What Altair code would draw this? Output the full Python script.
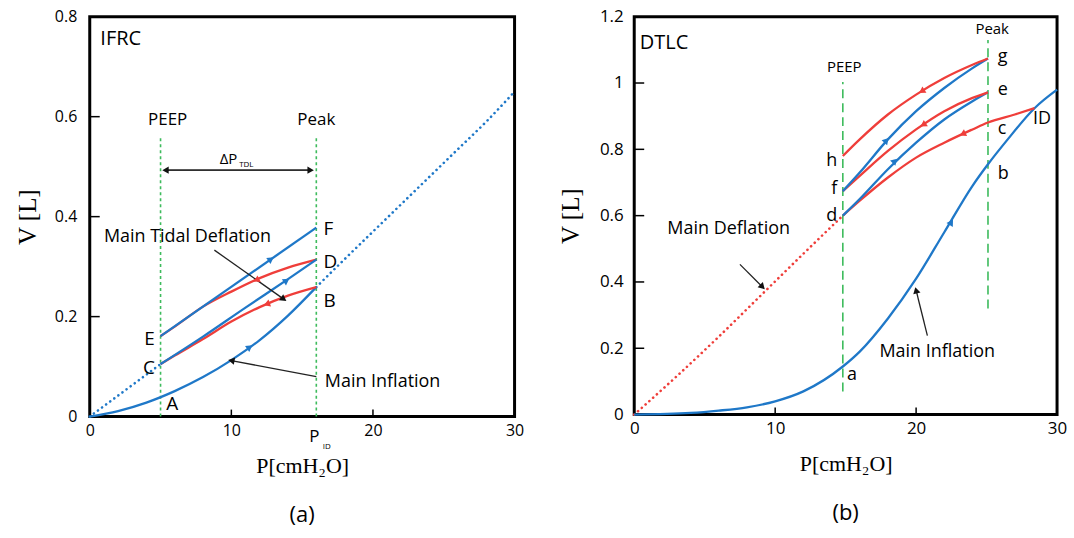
import altair as alt
import pandas as pd

BLUE = "#1f78c8"
RED = "#ef3e3a"
GREEN = "#3dbb5c"
SANS = "Open Sans"
SERIF = "Liberation Serif"

# ---------------- Panel (a) IFRC data ----------------
a_infl_P = [0, 2, 4, 6, 8, 10, 12, 14, 16]
a_infl_V = [0, 0.011, 0.028, 0.051, 0.079, 0.113, 0.153, 0.202, 0.259]
a_infl_ext_P = [16, 18, 20, 22, 24, 26, 28, 30]
a_infl_ext_V = [0.259, 0.315, 0.37, 0.425, 0.48, 0.535, 0.59, 0.65]
a_defl_dot_P = [0, 5]
a_defl_dot_V = [0, 0.105]
a_CD_P = [5, 8, 11, 14, 16]
a_CD_V = [0.105, 0.16, 0.218, 0.275, 0.314]
a_EF_P = [5, 16]
a_EF_V = [0.161, 0.378]
a_DE_P = [16, 14, 12, 10, 8, 6, 5]
a_DE_V = [0.314, 0.298, 0.277, 0.25, 0.22, 0.18, 0.161]
a_BC_P = [16, 14, 12, 10, 8, 6, 5]
a_BC_V = [0.259, 0.242, 0.219, 0.19, 0.155, 0.122, 0.105]

a_peep, a_peak = 5, 16
a_vline_top = 0.559

a_yvals = [0, 0.2, 0.4, 0.6, 0.8]
a_ytick_in = [0.2, 0.4, 0.6]
a_xvals = [0, 10, 20, 30]
a_xtick_in = [10, 20]

# curve arrowheads: P, V, direction angle (deg, clockwise from right)
a_arr_col = ["blue", "blue", "blue", "red", "red"]
a_arr_P = [11.3, 12.8, 13.9, 11.76, 12.5]
a_arr_V = [0.139, 0.315, 0.272, 0.273, 0.225]
a_arr_ang = [325, 325, 326, 154, 160]

# annotation arrows (from -> to)
a_ann_P1 = [8.8, 16.0]
a_ann_V1 = [0.333, 0.08]
a_ann_P2 = [13.7, 10.0]
a_ann_V2 = [0.235, 0.112]
a_ann_ang = [35, 190.6]

a_dp_P1, a_dp_P2, a_dp_V = 5.35, 15.6, 0.493

# ---------------- Panel (b) DTLC data ----------------
b_infl_P = [0, 4, 6, 8, 10, 12, 14.8, 16, 18, 20, 22, 24, 25.1, 26.5, 28.4, 30]
b_infl_V = [0, 0.005, 0.012, 0.022, 0.04, 0.07, 0.145, 0.19, 0.29, 0.41, 0.55, 0.69, 0.755, 0.83, 0.924, 0.98]
b_defl_P = [0, 3, 6, 9, 12, 14.8]
b_defl_V = [0, 0.115, 0.235, 0.36, 0.485, 0.6]
b_gh_P = [14.8, 16, 18, 20, 22, 24, 25.1]
b_gh_V = [0.78, 0.83, 0.905, 0.965, 1.015, 1.055, 1.074]
b_fg_P = [14.8, 16, 18, 20, 22, 24, 25.1]
b_fg_V = [0.674, 0.73, 0.83, 0.915, 0.985, 1.045, 1.074]
b_ef_P = [14.8, 16, 18, 20, 22, 24, 25.1]
b_ef_V = [0.674, 0.72, 0.795, 0.86, 0.915, 0.955, 0.972]
b_de_P = [14.8, 16, 18, 20, 22, 24, 25.1]
b_de_V = [0.6, 0.65, 0.74, 0.82, 0.89, 0.945, 0.972]
b_idd_P = [14.8, 16, 18, 20, 22, 24, 25.1, 27, 28.4]
b_idd_V = [0.6, 0.645, 0.715, 0.775, 0.82, 0.86, 0.881, 0.905, 0.924]

b_peep, b_peak = 14.8, 25.1
b_peep_V = [0.07, 1.003]
b_peak_V = [0.32, 1.13]

b_yvals = [0, 0.2, 0.4, 0.6, 0.8, 1, 1.2]
b_ytick_in = [0.2, 0.4, 0.6, 0.8, 1.0]
b_xvals = [0, 10, 20, 30]
b_xtick_in = [10, 20]

b_arr_col = ["blue", "blue", "blue", "red", "red", "red"]
b_arr_P = [22.5, 17.9, 18.5, 20.4, 20.5, 23.3]
b_arr_V = [0.58, 0.827, 0.765, 0.975, 0.874, 0.846]
b_arr_ang = [302, 312, 315, 147, 147, 155]

b_ann_P1 = [7.5, 20.8]
b_ann_V1 = [0.453, 0.238]
b_ann_P2 = [9.1, 20.0]
b_ann_V2 = [0.385, 0.375]
b_ann_ang = [45, 256]

W_A, H_A = 426, 401
W_B, H_B = 424, 399

COLSCALE = alt.Scale(domain=["blue", "red"], range=[BLUE, RED])


def curves_df(curves):
    rows = []
    for cid, (P, V, col) in enumerate(curves):
        for i, (p, v) in enumerate(zip(P, V)):
            rows.append({"P": p, "V": v, "curve": cid, "ord": i, "col": col})
    return pd.DataFrame(rows)


def panel(solid, dotted, xdom, ydom, yvals, xvals, ytick_in, xtick_in, vlines, vdash, arr, ann, texts,
          W, H, y_lab_pad, y_title_pad, lab_size, title_txt):
    xs = alt.Scale(domain=xdom, nice=False, zero=False)
    ys = alt.Scale(domain=ydom, nice=False, zero=False)
    xax = alt.Axis(values=xvals, format="~g", domain=False, ticks=False, grid=False, labelFont=SANS,
                   labelFontSize=lab_size, labelColor="black", labelPadding=6, labelFlush=False,
                   title="P[cmH₂O]", titleFont=SERIF, titleFontSize=22, titleFontWeight="normal",
                   titleColor="black", titlePadding=17)
    yax = alt.Axis(values=yvals, format="~g", domain=False, ticks=False, grid=False, labelFont=SANS,
                   labelFontSize=lab_size, labelColor="black", labelPadding=y_lab_pad, labelFlush=False,
                   title="V [L]", titleFont=SERIF, titleFontSize=25, titleFontWeight="normal",
                   titleColor="black", titlePadding=y_title_pad)
    X = alt.X("P:Q", scale=xs, axis=xax)
    Y = alt.Y("V:Q", scale=ys, axis=yax)

    solid_l = alt.Chart(curves_df(solid)).mark_line(strokeWidth=2.3, interpolate="monotone").encode(
        x=X, y=Y, color=alt.Color("col:N", scale=COLSCALE, legend=None),
        detail="curve:N", order="ord:Q")
    dotted_l = alt.Chart(curves_df(dotted)).mark_line(
        strokeWidth=2.6, interpolate="monotone", strokeDash=[0.1, 5], strokeCap="round").encode(
        x=alt.X("P:Q", scale=xs), y=alt.Y("V:Q", scale=ys),
        color=alt.Color("col:N", scale=COLSCALE, legend=None),
        detail="curve:N", order="ord:Q")

    vl = alt.Chart(pd.DataFrame(vlines)).mark_rule(color=GREEN, strokeWidth=1.6, strokeDash=vdash).encode(
        x=alt.X("P:Q", scale=xs), y=alt.Y("V1:Q", scale=ys), y2="V2:Q")

    ytk = alt.Chart(pd.DataFrame({"V": ytick_in})).mark_rule(color="black", strokeWidth=1.5).encode(
        y=alt.Y("V:Q", scale=ys), x=alt.value(0), x2=alt.value(10))
    xtk = alt.Chart(pd.DataFrame({"P": xtick_in})).mark_rule(color="black", strokeWidth=1.5).encode(
        x=alt.X("P:Q", scale=xs), y=alt.value(H), y2=alt.value(H - 7))

    heads = alt.Chart(pd.DataFrame(arr)).mark_point(shape="triangle-right", filled=True, size=55, opacity=1).encode(
        x=alt.X("P:Q", scale=xs), y=alt.Y("V:Q", scale=ys),
        angle=alt.Angle("ang:Q", scale=None),
        color=alt.Color("col:N", scale=COLSCALE, legend=None))

    ndf = pd.DataFrame(ann)
    ann_lines = alt.Chart(ndf).mark_rule(color="#222222", strokeWidth=1.3).encode(
        x=alt.X("P1:Q", scale=xs), y=alt.Y("V1:Q", scale=ys), x2="P2:Q", y2="V2:Q")
    ann_heads = alt.Chart(ndf).mark_point(shape="triangle-right", filled=True, size=55, color="#111111", opacity=1).encode(
        x=alt.X("P2:Q", scale=xs), y=alt.Y("V2:Q", scale=ys), angle=alt.Angle("ang:Q", scale=None))

    layers = [vl, dotted_l, solid_l, ytk, xtk, ann_lines, ann_heads, heads]
    for t in texts:
        tdf = pd.DataFrame({"P": t["P"], "V": t["V"], "txt": t["txt"]})
        layers.append(alt.Chart(tdf).mark_text(
            font=t.get("font", SANS), fontSize=t["size"], align=t.get("align", "left"),
            baseline="middle", color="black").encode(
            x=alt.X("P:Q", scale=xs), y=alt.Y("V:Q", scale=ys), text="txt:N"))
    return alt.layer(*layers).properties(
        width=W, height=H,
        title=alt.TitleParams(title_txt, orient="bottom", font=SANS, fontSize=22, fontWeight="normal",
                              color="black", offset=29, frame="group", anchor="middle"))


# ---------- panel (a) ----------
a_solid = [
    (a_infl_P, a_infl_V, "blue"),
    (a_BC_P, a_BC_V, "red"),
    (a_DE_P, a_DE_V, "red"),
    (a_CD_P, a_CD_V, "blue"),
    (a_EF_P, a_EF_V, "blue"),
]
a_dotted = [
    (a_infl_ext_P, a_infl_ext_V, "blue"),
    (a_defl_dot_P, a_defl_dot_V, "blue"),
]
a_vlines = {"P": [a_peep, a_peak], "V1": [0, 0], "V2": [a_vline_top, a_vline_top]}
a_arr = {"P": a_arr_P, "V": a_arr_V, "ang": a_arr_ang, "col": a_arr_col}
a_ann = {"P1": a_ann_P1 + [a_dp_P1, a_dp_P2], "V1": a_ann_V1 + [a_dp_V, a_dp_V],
         "P2": a_ann_P2 + [a_dp_P2, a_dp_P1], "V2": a_ann_V2 + [a_dp_V, a_dp_V],
         "ang": a_ann_ang + [0, 180]}
a_texts = [
    {"txt": ["F", "D", "B"], "P": [16.5, 16.5, 16.5], "V": [0.375, 0.31, 0.232], "size": 19},
    {"txt": ["E", "C"], "P": [4.6, 4.6], "V": [0.155, 0.098], "size": 19, "align": "right"},
    {"txt": ["A"], "P": [5.4], "V": [0.025], "size": 19},
    {"txt": ["IFRC"], "P": [0.75], "V": [0.755], "size": 20},
    {"txt": ["PEEP", "Peak"], "P": [5.5, 16.0], "V": [0.593, 0.593], "size": 17, "align": "center"},
    {"txt": ["ΔP"], "P": [9.8], "V": [0.515], "size": 15, "align": "center"},
    {"txt": ["TDL"], "P": [10.55], "V": [0.504], "size": 8},
    {"txt": ["Main Tidal Deflation"], "P": [1.0], "V": [0.36], "size": 18},
    {"txt": ["Main Inflation"], "P": [16.6], "V": [0.07], "size": 18},
    {"txt": ["P"], "P": [15.5], "V": [-0.04], "size": 17},
    {"txt": ["ID"], "P": [16.45], "V": [-0.06], "size": 8},
]
left = panel(a_solid, a_dotted, [0, 30], [0, 0.8], a_yvals, a_xvals, a_ytick_in, a_xtick_in,
             a_vlines, [3, 3], a_arr, a_ann, a_texts, W_A, H_A, 13, 14, 16, "(a)")

# ---------- panel (b) ----------
b_solid = [
    (b_infl_P, b_infl_V, "blue"),
    (b_idd_P, b_idd_V, "red"),
    (b_de_P, b_de_V, "blue"),
    (b_ef_P, b_ef_V, "red"),
    (b_fg_P, b_fg_V, "blue"),
    (b_gh_P, b_gh_V, "red"),
]
b_dotted = [
    (b_defl_P, b_defl_V, "red"),
]
b_vlines = {"P": [b_peep, b_peak], "V1": [b_peep_V[0], b_peak_V[0]], "V2": [b_peep_V[1], b_peak_V[1]]}
b_arr = {"P": b_arr_P, "V": b_arr_V, "ang": b_arr_ang, "col": b_arr_col}
b_ann = {"P1": b_ann_P1, "V1": b_ann_V1, "P2": b_ann_P2, "V2": b_ann_V2, "ang": b_ann_ang}
b_texts = [
    {"txt": ["g", "e", "c", "b"], "P": [25.8, 25.8, 25.8, 25.8], "V": [1.077, 0.978, 0.86, 0.726], "size": 18},
    {"txt": ["ID"], "P": [28.3], "V": [0.89], "size": 18},
    {"txt": ["a"], "P": [15.1], "V": [0.12], "size": 18},
    {"txt": ["h", "f", "d"], "P": [14.4, 14.4, 14.4], "V": [0.765, 0.68, 0.6], "size": 18, "align": "right"},
    {"txt": ["PEEP"], "P": [14.9], "V": [1.048], "size": 15, "align": "center"},
    {"txt": ["Peak"], "P": [25.4], "V": [1.164], "size": 15, "align": "center"},
    {"txt": ["DTLC"], "P": [0.4], "V": [1.12], "size": 20},
    {"txt": ["Main Deflation"], "P": [6.7], "V": [0.56], "size": 18, "align": "center"},
    {"txt": ["Main Inflation"], "P": [21.5], "V": [0.19], "size": 18, "align": "center"},
]
right = panel(b_solid, b_dotted, [0, 30], [0, 1.2], b_yvals, b_xvals, b_ytick_in, b_xtick_in,
              b_vlines, [9, 5], b_arr, b_ann, b_texts, W_B, H_B, 11, 16, 17, "(b)")

chart = alt.hconcat(left, right, spacing=31).configure(
    padding={"left": 14, "top": 5, "right": 5, "bottom": 5}, background="white"
).configure_view(stroke="black", strokeWidth=3)

chart.save("out.html", embed_options={"renderer": "svg", "actions": False})
